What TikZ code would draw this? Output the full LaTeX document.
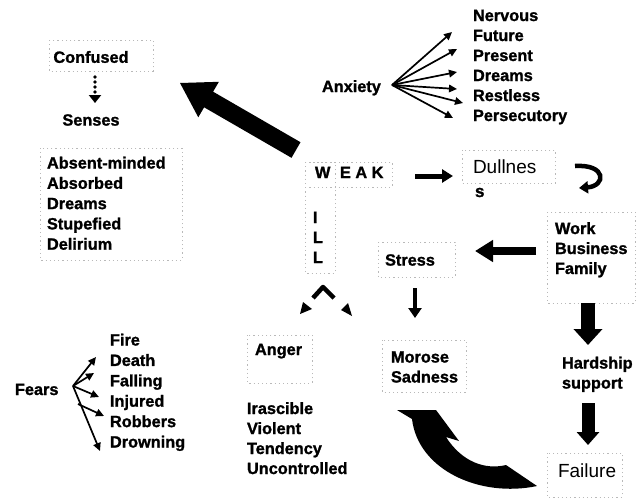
\documentclass[tikz,border=0pt]{standalone}
\usepackage{fontspec}
\setmainfont{Liberation Sans}[BoldFeatures={FakeBold=1.3}]
\usetikzlibrary{arrows.meta}
\begin{document}
\begin{tikzpicture}[x=1pt,y=-1pt,
  every node/.style={inner sep=0pt, outer sep=0pt, font=\fontsize{16.3}{20.3}\selectfont\bfseries},
  lst/.style={align=left, anchor=base west},
  txt/.style={anchor=base west},
  plain/.style={anchor=base west, font=\fontsize{19}{20}\selectfont},
  box/.style={draw=gray!55, line width=0.6pt, dash pattern=on 1.2pt off 3pt},
  thinarr/.style={line width=1.7pt, -{Triangle[length=8pt,width=7.5pt]}},
  dotarr/.style={line width=3.8pt, dash pattern=on 0pt off 5pt, line cap=round, -{Triangle[length=8pt,width=12pt]}},
  bigfill/.style={fill=black}
]
\useasboundingbox (0,0) rectangle (644,499);
\fill[white] (0,0) rectangle (644,499);

% ---------- boxes ----------
\draw[box] (49,40) rectangle (153,71);
\draw[box] (40,148) rectangle (182,260);
\draw[box] (305,162) rectangle (335,273);
\draw[box] (305,162) rectangle (392,187);
\draw[box] (462,150) rectangle (555,183);
\draw[box] (547,212) rectangle (635,303);
\draw[box] (378,242) rectangle (455,277);
\draw[box] (382,340) rectangle (466,392);
\draw[box] (247,335) rectangle (312,383);
\draw[box] (547,453) rectangle (622,497);

% ---------- texts (list nodes anchored at the baseline of their last line) ----------
\node (confused) at (91,57) {Confused};
\node (senses) at (91,120) {Senses};
\node[lst] (absent) at (47,249.7) {Absent-minded\\Absorbed\\Dreams\\Stupefied\\Delirium};

\node[txt] (anxiety) at (322,92) {Anxiety};
\node[lst, font=\fontsize{16.3}{20}\selectfont\bfseries] (anxlist) at (473,121) {Nervous\\Future\\Present\\Dreams\\Restless\\Persecutory};

\node[txt] (w) at (315,178) {W};
\node[txt] (eak) at (340,178) {E A K};
\node[lst, font=\fontsize{16.3}{20}\selectfont\bfseries] (ill) at (313,263) {I\\L\\L};

\node[plain] (dull) at (473,173) {Dullnes};
\node[plain, font=\fontsize{17}{20}\selectfont\bfseries] (dulls) at (475,197) {s};

\node[lst, font=\fontsize{16.3}{20}\selectfont\bfseries] (work) at (555,274) {Work\\Business\\Family};
\node (stress) at (410,260) {Stress};
\node[lst, font=\fontsize{16.3}{20}\selectfont\bfseries] (morose) at (391,382.5) {Morose\\Sadness};
\node[lst, font=\fontsize{16.3}{20}\selectfont\bfseries] (hardship) at (562,388.5) {Hardship\\support};
\node[plain] (failure) at (558,477) {Failure};

\node[txt] (anger) at (255,355) {Anger};
\node[lst, font=\fontsize{16.3}{20}\selectfont\bfseries] (angerlist) at (247,474) {Irascible\\Violent\\Tendency\\Uncontrolled};

\node[txt] (fears) at (15,395) {Fears};
\node[lst, font=\fontsize{16.3}{20.4}\selectfont\bfseries] (fearlist) at (110,447.5) {Fire\\Death\\Falling\\Injured\\Robbers\\Drowning};

% ---------- coordinates ----------
\coordinate (c1) at (95,77);   \coordinate (c2) at (95,103);
\coordinate (ax) at (392,85);
\coordinate (ax1) at (452,32); \coordinate (ax2) at (457,49);
\coordinate (ax3) at (457,72); \coordinate (ax4) at (457,89);
\coordinate (ax5) at (463,103); \coordinate (ax6) at (453,118);
\coordinate (fo) at (73,386);
\coordinate (f1) at (96,357); \coordinate (f2) at (94,373);
\coordinate (f3) at (99,397); \coordinate (f5) at (100,451);
\coordinate (fb) at (78,404); \coordinate (f4) at (104,416);
\coordinate (wd1) at (415,176); \coordinate (wd2) at (453,176);
\coordinate (h1) at (575,166); \coordinate (h2) at (579,188);
\coordinate (ws1) at (536,251); \coordinate (ws2) at (475,251);
\coordinate (sm1) at (415,288); \coordinate (sm2) at (415,318);
\coordinate (wh1) at (588,303); \coordinate (wh2) at (588,345);
\coordinate (hf1) at (588,403); \coordinate (hf2) at (588,445);

% ---------- connectors ----------
\draw[dotarr] (c1) -- (c2);
\foreach \t in {ax1,ax2,ax3,ax4,ax5,ax6} \draw[thinarr] (ax) -- (\t);
\foreach \t in {f1,f2,f3,f5} \draw[thinarr] (fo) -- (\t);
\draw[thinarr] (fb) -- (f4);

\draw[line width=5pt, -{Triangle[length=11pt,width=13pt]}] (wd1) -- (wd2);
\draw[line width=4.5pt, -{Triangle[length=9pt,width=12pt]}] (h1) .. controls (607,164) and (606,186) .. (h2);
\draw[line width=8pt, -{Triangle[length=18pt,width=21pt]}] (ws1) -- (ws2);
\draw[line width=4pt, -{Triangle[length=10pt,width=13pt]}] (sm1) -- (sm2);
\draw[line width=14pt, -{Triangle[length=16pt,width=28pt]}] (wh1) -- (wh2);
\draw[line width=13pt, -{Triangle[length=13pt,width=22pt]}] (hf1) -- (hf2);

% big arrow WEAK -> Confused
\fill[bigfill] (180,83) -- (218.9,81.8) -- (213.1,91.7) -- (300.5,142.2) -- (291.5,157.8) -- (204.1,107.3) -- (198.3,117.3) -- cycle;

% big curved arrow Failure -> Morose
\fill[bigfill] (397,410) -- (436,410) -- (459,441) -- (446,437)
  .. controls (462,462) and (485,470) .. (506,465) -- (537,486)
  .. controls (480,498) and (418,470) .. (412,419) -- cycle;

% chevron with two heads
\draw[line width=4.5pt, line join=round] (313,298) -- (323,287) -- (334,298);
\fill (300,314) -- (303,302) -- (312,309) -- cycle;
\fill (352,316) -- (348,303) -- (341,310) -- cycle;
\end{tikzpicture}
\end{document}
